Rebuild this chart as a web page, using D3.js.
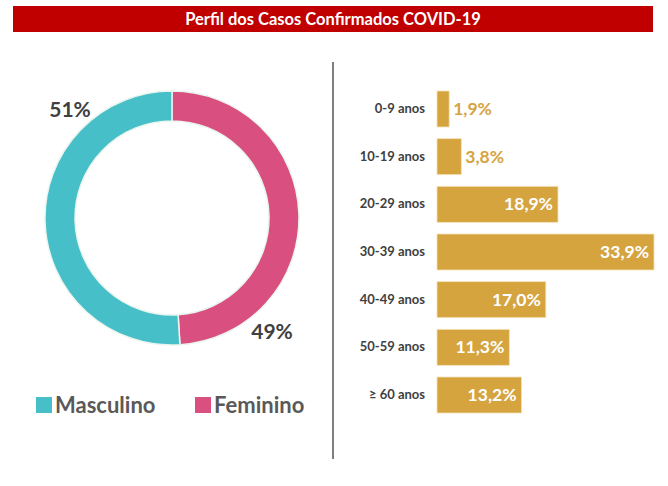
<!DOCTYPE html>
<html>
<head>
<meta charset="utf-8">
<script src="https://cdn.jsdelivr.net/npm/d3@7"></script>
<style>
  body { margin: 0; background: #fff; }
  svg { display: block; font-family: Lato, "Open Sans", sans-serif; }
</style>
</head>
<body>
<svg id="chart" width="668" height="486"></svg>
<script>
const title = 'Perfil dos Casos Confirmados COVID-19'

const sexes = ['Feminino', 'Masculino']
const sexValues = [49, 51]
const sexLabels = ['49%', '51%']
const sexColors = ['#d94f7f', '#47bfc8']
const legendOrder = ['Masculino', 'Feminino']

const ageGroups = ['0-9 anos', '10-19 anos', '20-29 anos', '30-39 anos', '40-49 anos', '50-59 anos', '\u2265 60 anos']
const ageValues = [1.9, 3.8, 18.9, 33.9, 17.0, 11.3, 13.2]
const ageLabels = ['1,9%', '3,8%', '18,9%', '33,9%', '17,0%', '11,3%', '13,2%']

const svg = d3.select('#chart')

// title bar
svg.append('rect')
    .attr('x', 13).attr('y', 6)
    .attr('width', 640).attr('height', 26)
    .attr('fill', '#c00000')
svg.append('text')
    .attr('x', 333).attr('y', 25)
    .attr('text-anchor', 'middle')
    .attr('fill', '#fff')
    .attr('font-size', '16.5px')
    .attr('font-weight', 'bold')
    .text(title)

// donut
function drawDonut(g) {
    const pie = d3.pie().sort(null)
    const arc = d3.arc().innerRadius(97).outerRadius(127)
    const arcs = pie(sexValues)

    g.selectAll('path')
        .data(arcs)
        .join('path')
        .attr('d', arc)
        .attr('fill', (d, i) => sexColors[i])
        .attr('stroke', '#eaf5ee')
        .attr('stroke-width', 1.5)

    // percentage labels sit outside the ring, at the lower right / upper left
    const labelPos = [[100, 121], [-102, -101]]
    g.selectAll('.pct')
        .data(arcs)
        .join('text')
        .attr('class', 'pct')
        .attr('x', (d, i) => labelPos[i][0])
        .attr('y', (d, i) => labelPos[i][1])
        .attr('text-anchor', 'middle')
        .attr('font-size', '21px')
        .attr('font-weight', 'bold')
        .attr('fill', '#404040')
        .text((d, i) => sexLabels[i])
}
drawDonut(svg.append('g').attr('transform', 'translate(172,218)'))

// legend
const legend = svg.append('g').attr('transform', 'translate(36,397)')
const legendX = d3.scalePoint().domain(legendOrder).range([0, 159])
legendOrder.forEach(function (name) {
    const lg = legend.append('g').attr('transform', 'translate(' + legendX(name) + ',0)')
    lg.append('rect')
        .attr('width', 16).attr('height', 16)
        .attr('fill', sexColors[sexes.indexOf(name)])
    lg.append('text')
        .attr('x', 19).attr('y', 16)
        .attr('font-size', '22px')
        .attr('font-weight', 'bold')
        .attr('fill', '#595959')
        .text(name)
})

// divider
svg.append('line')
    .attr('x1', 333).attr('x2', 333)
    .attr('y1', 62).attr('y2', 459)
    .attr('stroke', '#7f7f7f')
    .attr('stroke-width', 2)

// age bars
const x = d3.scaleLinear().domain([0, 33.9]).range([0, 217])
const y = d3.scaleBand().domain(ageGroups).range([91, 413]).paddingInner(0.245)
const bars = svg.append('g').attr('transform', 'translate(437,0)')

bars.selectAll('rect')
    .data(ageValues)
    .join('rect')
    .attr('x', 0)
    .attr('y', (d, i) => y(ageGroups[i]))
    .attr('width', d => x(d))
    .attr('height', y.bandwidth())
    .attr('fill', '#d5a43f')
    .attr('stroke', '#f3e2b8')
    .attr('stroke-width', 0.8)

bars.selectAll('.val')
    .data(ageValues)
    .join('text')
    .attr('class', 'val')
    .attr('x', d => d < 5 ? x(d) + 4 : x(d) - 5)
    .attr('y', (d, i) => y(ageGroups[i]) + y.bandwidth() / 2 + 6)
    .attr('text-anchor', d => d < 5 ? 'start' : 'end')
    .attr('font-size', '17.5px')
    .attr('font-weight', 'bold')
    .attr('fill', d => d < 5 ? '#d5a43f' : '#fff')
    .text((d, i) => ageLabels[i])

svg.append('g')
    .selectAll('text')
    .data(ageGroups)
    .join('text')
    .attr('x', 425)
    .attr('y', d => y(d) + y.bandwidth() / 2 + 4)
    .attr('text-anchor', 'end')
    .attr('font-size', '13px')
    .attr('font-weight', 'bold')
    .attr('fill', '#404040')
    .text(d => d)
</script>
</body>
</html>
